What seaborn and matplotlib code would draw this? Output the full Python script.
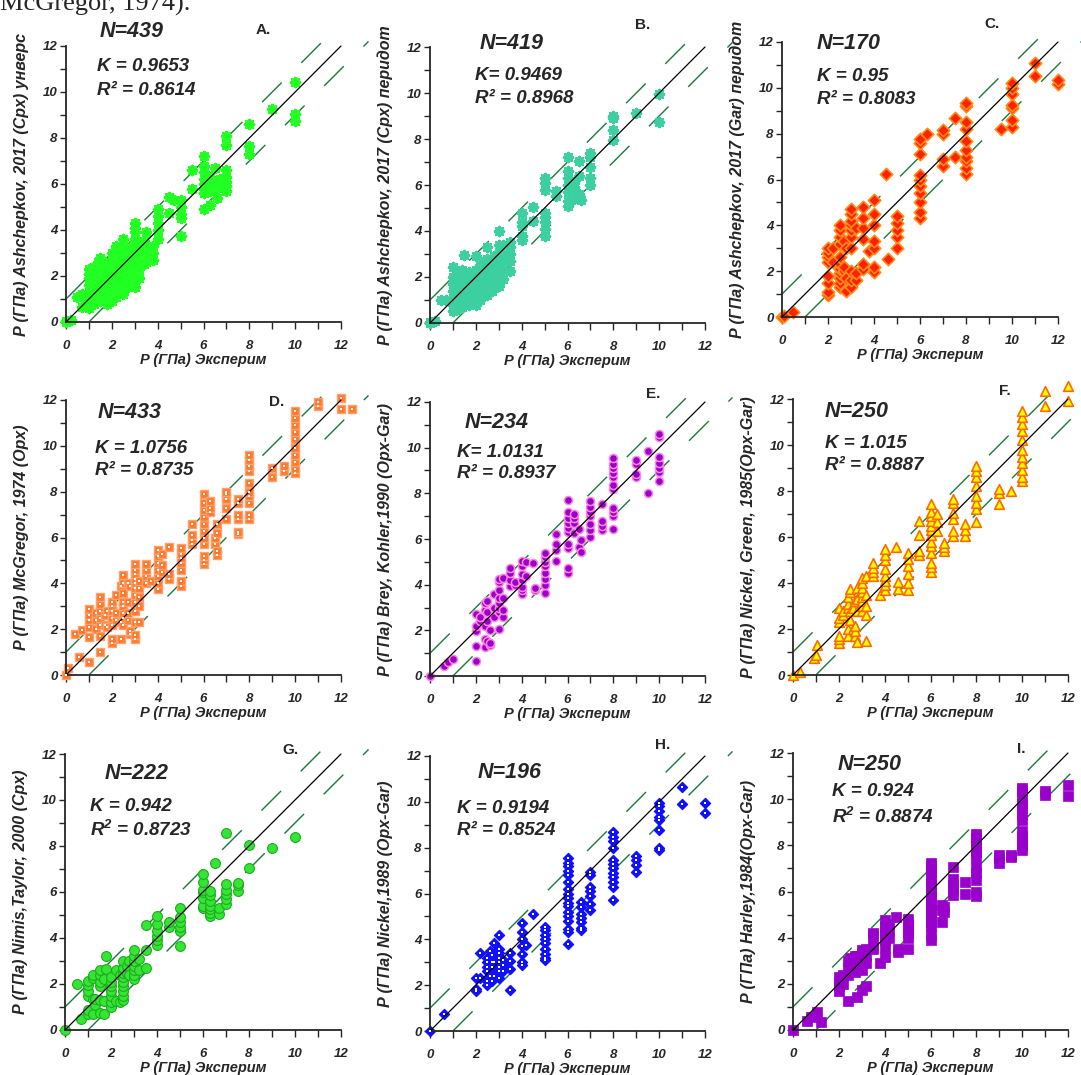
import matplotlib
matplotlib.use('Agg')
import matplotlib.pyplot as plt
import seaborn as sns
import pandas as pd

A_X = [0, 0.2, 0.5, 0.7, 0.8, 1.0, 1.2, 1.4, 1.5, 1.7, 1.8, 2.0, 2.2, 2.4, 2.5, 2.7, 2.8, 3.0, 3.2, 3.4, 3.5, 3.8, 4.0,
       4.5, 4.7, 5.0, 5.5, 6.0, 6.3, 6.5, 6.6, 6.7, 7.0, 8.0, 9.0, 10.0]
A_Y = [[0, 0.05], [0.1], [1.1], [0.65, 1.2], [1.1], [0.6, 0.8, 1.0, 1.3, 1.6, 1.9, 2.1, 2.3],
       [0.8, 1.1, 1.4, 1.7, 2.0, 2.4], [1.0, 1.3, 1.6, 2.2, 2.6], [0.9, 1.2, 1.5, 1.8, 2.1, 2.4, 2.8],
       [1.1, 1.4, 1.9, 2.3, 2.6], [0.8, 1.6, 2.0, 2.5], [0.9, 1.2, 1.5, 1.8, 2.1, 2.4, 2.7, 3.0],
       [1.1, 1.4, 1.9, 2.3, 2.7, 3.1, 3.3], [1.3, 1.7, 2.0, 2.6, 2.9], [1.2, 1.6, 2.0, 2.3, 2.6, 2.9, 3.2, 3.6],
       [1.5, 1.8, 2.2, 2.5, 2.9], [1.6, 2.0, 2.7, 3.3], [1.5, 1.8, 2.1, 2.4, 2.7, 3.0, 3.3, 3.6, 3.9, 4.1, 4.3],
       [1.9, 2.3, 2.6, 3.0], [2.5, 3.2, 3.5], [2.6, 2.9, 3.3, 3.9], [2.7, 3.0, 3.3], [3.6, 4.0, 4.3, 4.6, 4.9],
       [4.75, 5.45], [5.3], [3.75, 4.5, 4.7, 5.0, 5.3], [5.8, 6.6], [4.9, 5.6, 5.8, 6.0, 6.2, 6.5, 6.8, 7.2],
       [5.1, 5.7, 5.9, 6.1, 6.3], [5.7, 6.0, 6.7], [5.4], [5.9, 6.2], [5.7, 5.9, 6.1, 6.3, 6.6, 7.7, 8.1],
       [7.3, 7.65, 8.6], [9.25], [8.75, 9.05, 10.45]]

B_X = [0, 0.2, 0.5, 0.7, 1.0, 1.2, 1.4, 1.5, 1.7, 1.8, 2.0, 2.2, 2.4, 2.5, 2.7, 2.8, 3.0, 3.2, 3.5, 4.0, 4.5,
       5.0, 5.5, 6.0, 6.3, 6.5, 6.6, 7.0, 8.0, 9.0, 10.0]
B_Y = [[0, 0.05], [0.1], [1.0], [1.0], [0.5, 0.8, 1.1, 1.4, 1.7, 2.0, 2.45], [0.6, 0.9, 1.2, 1.5, 1.9, 2.2],
       [0.7, 1.0, 1.4, 1.8, 2.3], [0.8, 1.2, 1.6, 2.0, 2.95], [0.8, 1.1, 1.5, 1.9, 2.2], [0.9, 1.3, 1.7, 2.1],
       [0.8, 1.1, 1.4, 1.7, 2.0, 2.3, 2.9], [1.0, 1.3, 1.6, 1.9, 2.2, 2.5], [1.2, 1.5, 1.8, 2.1, 2.4, 2.7],
       [1.2, 1.6, 2.0, 2.4, 2.8, 3.3], [1.4, 1.7, 2.0, 2.3, 2.6], [1.5, 1.8, 2.2, 2.6, 2.9],
       [1.6, 1.9, 2.2, 2.5, 2.8, 3.1, 3.4, 4.0], [1.9, 2.3, 2.7, 3.0, 3.4], [2.25, 2.7, 3.0, 3.3, 3.5],
       [3.6, 3.8, 4.2, 4.4, 4.8], [4.45, 5.05], [3.8, 4.1, 4.4, 4.6, 4.8, 5.8, 6.1, 6.3], [5.5, 5.75],
       [5.1, 5.3, 5.7, 6.0, 6.3, 6.6, 7.2], [5.4, 5.9, 6.1], [5.6, 6.4, 7.05], [5.35], [6.0, 6.3, 6.8, 7.2, 7.4],
       [7.95, 8.4, 8.9, 9.0], [9.15], [8.75, 9.95]]

C_X = [0, 0.1, 0.46, 2.0, 2.2, 2.5, 2.7, 2.8, 3.0, 3.2, 3.5, 3.8, 4.0, 4.5, 4.6, 5.0, 6.0, 6.3, 7.0, 7.5, 8.0,
       9.5, 10.0, 11.0, 12.0]
C_Y = [[0], [0.05], [0.2], [0.95, 1.1, 1.5, 1.8, 2.4, 2.6, 2.8, 3.0], [2.4, 3.0],
       [1.3, 1.5, 1.7, 1.9, 2.1, 2.3, 2.6, 3.2, 3.5, 3.8, 4.0], [2.0, 2.2, 3.3], [1.15, 1.7, 3.0],
       [1.3, 1.6, 2.0, 3.0, 3.5, 3.8, 4.0, 4.2, 4.5, 4.7], [1.6, 1.9, 3.9], [2.1, 2.3, 3.4, 3.9, 4.3, 4.8], [2.9],
       [1.95, 2.2, 3.0, 3.3, 4.0, 4.5, 5.1], [6.25], [2.55], [3.0, 3.5, 3.8, 4.1, 4.4],
       [4.3, 4.6, 5.0, 5.4, 5.7, 6.0, 6.2, 7.1, 7.6, 7.75], [8.0], [6.6, 6.9, 8.0, 8.15], [7.0, 8.7],
       [6.25, 6.5, 6.8, 7.0, 7.3, 7.7, 8.2, 8.5, 9.2, 9.35], [8.2], [8.3, 8.6, 9.1, 9.25, 9.75, 10.0, 10.2],
       [10.5, 11.1], [10.15, 10.35]]

D_X = [0, 0.1, 0.38, 0.57, 0.7, 1.0, 1.3, 1.5, 1.7, 1.8, 2.0, 2.2, 2.4, 2.5, 2.7, 2.8, 3.0, 3.2, 3.5, 3.7, 4.0,
       4.2, 4.5, 5.0, 5.5, 6.0, 6.3, 6.5, 6.6, 7.0, 7.5, 8.0, 9.0, 9.5, 10.0, 11.0, 12.0, 12.5]
D_Y = [[0], [0.32], [1.8], [0.8], [1.95], [0.55, 1.65, 2.1, 2.4, 2.6, 2.9], [2.0, 2.4, 2.7],
       [1.0, 1.7, 2.2, 2.5, 2.8, 3.1, 3.4], [2.2, 2.6], [2.1, 2.8], [1.4, 1.55, 2.2, 2.5, 2.8, 3.0, 3.2],
       [2.4, 2.7, 3.5], [1.55, 2.3, 3.9], [2.2, 2.5, 2.7, 3.0, 3.2, 3.6, 4.0, 4.35], [2.4, 2.7, 3.2, 4.0],
       [1.8, 1.9, 3.9], [1.55, 1.75, 2.3, 2.8, 3.2, 3.5, 3.8, 4.0, 4.2, 4.4, 4.6, 4.85], [2.3, 3.0, 3.4, 3.8, 4.1],
       [4.0, 4.3, 4.6, 4.85], [4.1], [3.75, 4.0, 4.3, 4.6, 4.9, 5.2, 5.45], [4.5, 4.8, 5.3], [4.2, 4.4, 5.6],
       [3.9, 4.1, 4.6, 4.9, 5.1, 5.3, 5.55], [5.7, 5.9, 6.1, 6.6],
       [4.85, 5.0, 5.2, 5.7, 6.0, 6.3, 6.6, 6.9, 7.2, 7.5, 7.9], [7.1, 7.3, 7.6], [5.7, 6.0],
       [5.25, 5.4, 6.2, 6.6], [6.8, 7.3, 7.7, 7.9, 8.0], [6.15, 6.25, 6.8, 7.0, 7.5, 7.7],
       [6.8, 7.0, 7.5, 7.8, 8.0, 8.4, 8.9, 9.1, 9.4, 9.6], [8.65, 9.05], [8.9, 9.1],
       [8.8, 9.0, 9.3, 9.6, 9.9, 10.3, 10.6, 10.9, 11.2, 11.5], [11.75, 11.9], [11.6, 12.1], [11.6]]

E_X = [0, 0.6, 0.8, 1.0, 2.0, 2.2, 2.4, 2.5, 2.6, 2.8, 3.0, 3.2, 3.5, 3.7, 4.0, 4.2, 4.5, 4.6, 5.0, 5.5, 6.0,
       6.3, 6.5, 6.6, 7.0, 7.5, 8.0, 9.0, 9.5, 10.0]
E_Y = [[0], [0.45], [0.6], [0.75], [0.65, 1.3, 1.95, 2.2, 2.7], [2.4, 2.6], [1.25, 1.6, 2.2, 2.9, 3.2],
       [1.55, 2.4, 2.8, 3.3], [1.35, 1.45, 2.0], [2.6, 3.0, 3.6], [2.05, 2.8, 3.0, 3.2, 3.4, 3.75, 4.1, 4.25],
       [2.6, 2.9, 3.4, 4.3], [3.95, 4.2, 4.5, 4.75], [4.0, 4.1], [3.6, 3.75, 3.9, 4.2, 4.45, 4.8, 5.05],
       [4.4, 5.0], [4.95], [3.75, 3.85], [3.65, 4.0, 4.25, 4.5, 4.8, 5.0, 5.2, 5.4], [5.05, 5.5, 5.8, 6.2],
       [4.5, 4.75, 5.6, 5.8, 6.3, 6.5, 6.7, 6.9, 7.2, 7.7], [6.25, 6.7, 6.9, 7.1], [5.65, 6.45], [5.45, 5.95],
       [6.1, 6.4, 6.65, 7.0, 7.2, 7.4, 7.65], [6.4, 6.55, 6.8, 7.55],
       [6.45, 7.0, 7.2, 7.35, 8.2, 8.35, 8.7, 8.9, 9.1, 9.3, 9.55], [8.7, 8.85, 9.3, 9.45], [8.0, 9.85],
       [8.55, 8.95, 9.1, 9.35, 9.6, 10.45, 10.6]]

F_X = [0, 0.3, 0.9, 1.0, 1.05, 2.0, 2.2, 2.4, 2.5, 2.6, 2.7, 2.8, 3.0, 3.2, 3.5, 3.8, 4.0, 4.5, 4.6, 5.0, 5.5,
       6.0, 6.3, 6.6, 7.0, 7.5, 8.0, 9.0, 9.5, 10.0, 11.0, 12.0]
F_Y = [[0], [0.15], [0.75], [0.85], [1.3], [1.4, 1.55, 1.7, 2.3, 2.5, 2.9], [2.6, 2.8], [1.7, 2.0, 2.9, 3.1, 3.4],
       [2.4, 2.8, 3.6, 3.75], [2.0, 2.9], [1.7, 1.9, 2.15, 3.2], [1.45, 2.8, 3.3, 3.8],
       [2.8, 3.0, 3.2, 3.4, 3.6, 3.8, 4.0, 4.2], [1.5, 2.6, 3.0, 3.5, 4.3], [4.3, 4.5, 4.65, 4.85], [3.5],
       [3.7, 3.9, 4.1, 4.3, 4.6, 5.0, 5.2, 5.5], [5.55], [3.75, 4.05], [3.7, 4.0, 4.4, 4.75, 5.05, 5.3],
       [5.2, 5.4, 6.1, 6.7], [4.5, 4.7, 4.85, 5.3, 5.6, 5.8, 6.1, 6.3, 6.5, 6.7, 6.9, 7.1, 7.45],
       [6.25, 6.65, 7.0], [5.4, 5.55, 5.75], [6.05, 6.25, 6.8, 7.05, 7.5, 7.65], [6.05, 6.3, 6.55],
       [6.65, 7.2, 7.5, 7.8, 8.2, 8.6, 8.85, 9.1], [7.45, 7.9, 8.1], [8.0],
       [8.45, 8.6, 8.9, 9.2, 9.5, 9.8, 10.2, 10.6, 10.9, 11.2, 11.5], [11.7, 12.35], [11.9, 12.55]]

G_X = [0, 0.5, 0.7, 1.0, 1.2, 1.3, 1.5, 1.7, 1.8, 2.0, 2.2, 2.4, 2.5, 2.7, 2.8, 3.0, 3.2, 3.5, 4.0, 4.5, 5.0,
       6.0, 6.3, 6.5, 6.7, 7.0, 7.5, 8.0, 9.0, 10.0]
G_Y = [[0], [2.0], [0.5], [0.7, 0.85, 1.5, 1.7, 1.95, 2.15], [0.7, 1.35, 2.25, 2.4], [1.1, 1.35],
       [0.75, 1.3, 1.9, 2.1, 2.4, 2.6], [0.7, 1.25, 2.2], [2.65, 3.2], [1.0, 1.2, 1.5, 1.7, 1.9, 2.1, 2.3],
       [1.25, 2.6], [1.2, 2.4], [1.3, 1.5, 1.7, 1.9, 2.1, 2.3, 2.5, 2.7, 3.0], [2.5, 2.8], [2.4, 3.0],
       [2.2, 2.4, 2.6, 2.8, 3.0, 3.2, 3.5], [2.6, 3.1], [2.7, 3.5, 4.55], [3.7, 3.9, 4.1, 4.3, 4.6, 4.95],
       [4.5, 4.7], [3.65, 4.3, 4.5, 4.7, 4.9, 5.3], [5.3, 5.4, 5.75, 6.0, 6.1, 6.45, 6.8],
       [4.95, 5.1, 5.25, 5.4, 5.6, 5.85, 6.05], [7.25], [5.05, 5.3], [5.5, 5.7, 5.9, 6.1, 6.35, 8.55],
       [6.05, 6.3, 6.4], [7.05, 8.05], [7.9], [8.4]]

H_X = [0, 0.6, 2.0, 2.2, 2.5, 2.6, 2.7, 2.8, 3.0, 3.2, 3.5, 4.0, 4.2, 4.5, 5.0, 6.0, 6.6, 7.0, 8.0, 9.0, 10.0,
       11.0, 12.0]
H_Y = [[0], [0.75], [1.75, 1.85, 2.3], [2.3, 3.4], [2.0, 2.2, 2.6, 2.8, 3.0, 3.2], [2.4, 3.5],
       [2.2, 2.8, 3.0, 3.3], [2.4, 3.0, 3.85], [2.3, 2.6, 2.8, 3.0, 3.2, 3.4, 3.6, 4.2], [2.6, 2.9, 3.1],
       [1.8, 2.7, 3.05, 3.4], [2.9, 3.0, 3.35, 3.7, 4.0, 4.3, 4.7], [3.75], [5.1],
       [3.1, 3.2, 3.35, 3.6, 3.85, 4.0, 4.2, 4.4, 4.55],
       [3.8, 4.3, 4.45, 4.8, 5.0, 5.2, 5.45, 5.6, 5.8, 6.0, 6.2, 6.5, 6.8, 7.0, 7.2, 7.35, 7.55],
       [4.4, 4.5, 4.75, 4.95, 5.1, 5.4, 5.65], [5.3, 5.55, 5.9, 6.1, 6.3, 6.8, 6.95],
       [5.7, 6.3, 6.5, 6.7, 6.9, 7.1, 7.3, 7.45, 8.0, 8.3, 8.45, 8.7], [6.95, 7.25, 7.45, 7.65],
       [7.9, 8.0, 8.75, 9.2, 9.35, 9.6, 9.8, 9.95], [9.9, 10.65], [9.5, 9.95]]

I_X = [0, 0.6, 0.8, 1.05, 1.2, 2.0, 2.2, 2.4, 2.5, 2.7, 2.8, 3.0, 3.2, 3.5, 3.8, 4.0, 4.2, 4.5, 4.6, 5.0, 6.0,
       6.5, 6.6, 7.0, 7.5, 8.0, 9.0, 9.5, 10.0, 11.0, 12.0]
I_Y = [[0], [0.4], [0.55], [0.8], [0.35], [1.7, 1.9, 2.1, 2.3], [2.0, 2.4], [1.25, 2.4, 2.7, 3.0],
       [2.6, 2.9, 3.1], [2.5, 2.8, 3.1, 3.2], [1.45, 2.7, 3.0, 3.2], [1.75, 2.6, 2.9, 3.1, 3.3, 3.45],
       [1.9, 2.9, 3.2, 3.5], [3.5, 3.7, 4.1, 4.2], [2.9], [3.15, 3.6, 3.9, 4.1, 4.3, 4.5, 4.75], [4.0, 4.3, 4.6],
       [4.9], [3.4, 3.5], [3.5, 4.0, 4.2, 4.4, 4.6, 4.8],
       [3.9, 4.1, 4.5, 4.7, 4.9, 5.1, 5.3, 5.5, 5.7, 5.9, 6.1, 6.3, 6.5, 6.7, 6.9, 7.1, 7.25],
       [4.7, 5.2, 5.4], [5.1, 5.35], [5.85, 6.1, 6.3, 6.55, 7.05], [5.9, 6.4],
       [5.8, 6.0, 6.5, 6.8, 7.05, 7.5, 7.7, 7.9, 8.1, 8.3, 8.5], [7.25, 7.45, 7.6], [7.5, 7.6],
       [7.8, 8.0, 8.2, 8.4, 8.6, 9.1, 9.3, 9.6, 9.8, 10.1, 10.35, 10.5], [10.2, 10.35], [10.15, 10.6]]

Y_LABELS = ['P (ГПа) Ashchepkov, 2017 (Cpx) унверс', 'P (ГПа) Ashchepkov, 2017 (Cpx) перидот',
            'P (ГПа) Ashchepkov, 2017 (Gar) перидот', 'P (ГПа) McGregor, 1974 (Opx)',
            'P (ГПа) Brey, Kohler,1990 (Opx-Gar)', 'P (ГПа) Nickel, Green, 1985(Opx-Gar)',
            'P (ГПа) Nimis,Taylor, 2000 (Cpx)', 'P (ГПа) Nickel,1989 (Opx-Gar)', 'P (ГПа) Harley,1984(Opx-Gar)']
N_TEXT = ['N=439', 'N=419', 'N=170', 'N=433', 'N=234', 'N=250', 'N=222', 'N=196', 'N=250']
K_TEXT = ['K = 0.9653', 'K= 0.9469', 'K = 0.95', 'K = 1.0756', 'K= 1.0131', 'K = 1.015', 'K = 0.942',
          'K = 0.9194', 'K = 0.924']
R_TEXT = ['R² = 0.8614', 'R² = 0.8968', 'R² = 0.8083', 'R² = 0.8735', 'R² = 0.8937', 'R² = 0.8887',
          'R$^{2}$ = 0.8723', 'R² = 0.8524', 'R$^{2}$ = 0.8874']
LETTERS = ['A.', 'B.', 'C.', 'D.', 'E.', 'F.', 'G.', 'H.', 'I.']

sns.set_style('ticks')
plt.rcParams['font.family'] = ['Liberation Sans', 'DejaVu Sans']
plt.rcParams['mathtext.fontset'] = 'custom'
plt.rcParams['mathtext.rm'] = 'Liberation Sans:italic:bold'
plt.rcParams['mathtext.it'] = 'Liberation Sans:italic:bold'
plt.rcParams['mathtext.bf'] = 'Liberation Sans:italic:bold'


def expand(xs, ys):
    rows = [(x, y) for x, col in zip(xs, ys) for y in col]
    return pd.DataFrame(rows, columns=['exp', 'calc'])


W, H = 1081, 1075
# pixel boxes: left, top, right, bottom
boxes = [(66, 46, 341, 322), (430, 47, 705, 323), (782, 42, 1058, 317),
         (66, 400, 341, 675), (430, 402, 705, 676), (793, 399, 1068, 675),
         (65, 754, 341, 1030), (430, 756, 705, 1031), (793, 753, 1068, 1030)]

# marker styles per panel
styles = [
    dict(marker=(8, 2, 0), s=40, color='#22ff22', linewidth=2.0),
    dict(marker=(8, 2, 0), s=40, color='#3ccfa0', linewidth=2.0),
    dict(marker='D', s=40, color='#ff2200', edgecolor='#ff8c1a', linewidth=1.2),
    dict(marker='s', s=34, color='#ff7a2a', edgecolor='#ffa070', linewidth=1.0),
    dict(marker='o', s=34, color='#9a00cc', edgecolor='#ff88dd', linewidth=1.1),
    dict(marker='^', s=48, color='#ffff00', edgecolor='#ff6a00', linewidth=1.2),
    dict(marker='o', s=50, color='#33e633', edgecolor='#1faa1f', linewidth=0.8),
    dict(marker='D', s=26, color='#1010ff', edgecolor='#1010ff', linewidth=1.0),
    dict(marker='s', s=42, color='#9900cc', edgecolor='#9900cc', linewidth=0.5),
]
# panels with a small white dot in the middle of each marker
center_dot = {3: 3, 7: 2}

# text positions in axes fraction: N, K, R2, letter
txt_pos = [
    ((0.124, 1.054), (0.113, 0.924), (0.113, 0.84), (0.716, 1.058)),
    ((0.18, 1.014), (0.164, 0.895), (0.164, 0.815), (0.775, 1.08)),
    ((0.127, 0.993), (0.127, 0.873), (0.127, 0.79), (0.76, 1.065)),
    ((0.116, 0.953), (0.105, 0.822), (0.105, 0.745), (0.767, 0.993)),
    ((0.127, 0.927), (0.098, 0.814), (0.098, 0.74), (0.81, 1.03)),
    ((0.116, 0.956), (0.116, 0.84), (0.116, 0.76), (0.77, 1.03)),
    ((0.145, 0.93), (0.09, 0.808), (0.09, 0.725), (0.818, 1.015)),
    ((0.175, 0.94), (0.098, 0.81), (0.098, 0.73), (0.845, 1.04)),
    ((0.164, 0.96), (0.142, 0.86), (0.142, 0.77), (0.83, 1.015)),
]

data = [(A_X, A_Y), (B_X, B_Y), (C_X, C_Y), (D_X, D_Y), (E_X, E_Y), (F_X, F_Y), (G_X, G_Y), (H_X, H_Y),
        (I_X, I_Y)]

fig = plt.figure(figsize=(W / 100, H / 100), dpi=100)

# tail of the preceding page text, cut by the top edge as in the source
fig.text(0.0, 1 - 11 / H, 'McGregor, 1974).', family='Liberation Serif', fontsize=19, ha='left',
         va='baseline')

for i, (box, (xs, ys)) in enumerate(zip(boxes, data)):
    l, t, r, b = box
    ax = fig.add_axes([l / W, 1 - b / H, (r - l) / W, (b - t) / H])
    df = expand(xs, ys)

    # reference lines: 1:1 and +-1 GPa
    ax.plot([0, 12], [0, 12], color='black', lw=0.9, clip_on=False, zorder=3)
    ax.plot([0, 11.6], [1, 12.6], color='#1a7a3a', lw=1.0, dashes=(20, 20), clip_on=False, zorder=1)
    ax.plot([1, 13.2], [0, 12.2], color='#1a7a3a', lw=1.0, dashes=(20, 20), clip_on=False, zorder=1)

    sns.scatterplot(data=df, x='exp', y='calc', ax=ax, clip_on=False, zorder=2, legend=False, **styles[i])
    if i in center_dot:
        sns.scatterplot(data=df, x='exp', y='calc', ax=ax, clip_on=False, zorder=4, legend=False,
                        marker='s', s=center_dot[i], color='white', linewidth=0)

    ax.set_xlim(0, 12)
    ax.set_ylim(0, 12)
    ax.set_xticks(range(0, 13, 2))
    ax.set_yticks(range(0, 13, 2))
    ax.set_xticks(range(1, 12, 2), minor=True)
    ax.set_yticks(range(1, 12, 2), minor=True)
    for lab in ax.get_xticklabels() + ax.get_yticklabels():
        lab.set_fontweight('bold')
        lab.set_fontstyle('italic')
        lab.set_fontsize(9.5)
    ax.tick_params(axis='x', which='both', direction='out', length=5, width=1, pad=8)
    ax.tick_params(axis='y', which='both', direction='out', length=4, width=1, pad=2)
    sns.despine(ax=ax)
    for sp in ['left', 'bottom']:
        ax.spines[sp].set_linewidth(1.3)

    ax.set_xlabel('P (ГПа) Эксперим', fontsize=10.5, fontweight='bold', fontstyle='italic')
    ax.xaxis.set_label_coords(0.5, -0.112)
    ax.set_ylabel(Y_LABELS[i], fontsize=11.5, fontweight='bold', fontstyle='italic')
    ax.yaxis.set_label_coords(-0.135, 0.5)

    pn, pk, pr, pl = txt_pos[i]
    ax.text(pn[0], pn[1], N_TEXT[i], transform=ax.transAxes, fontsize=15.5, fontweight='bold',
            fontstyle='italic', ha='left', va='center')
    ax.text(pk[0], pk[1], K_TEXT[i], transform=ax.transAxes, fontsize=13.5, fontweight='bold',
            fontstyle='italic', ha='left', va='center')
    ax.text(pr[0], pr[1], R_TEXT[i], transform=ax.transAxes, fontsize=13.5, fontweight='bold',
            fontstyle='italic', ha='left', va='center')
    ax.text(pl[0], pl[1], LETTERS[i], transform=ax.transAxes, fontsize=11, fontweight='bold',
            ha='center', va='center')

fig.savefig('out.png', dpi=100)
